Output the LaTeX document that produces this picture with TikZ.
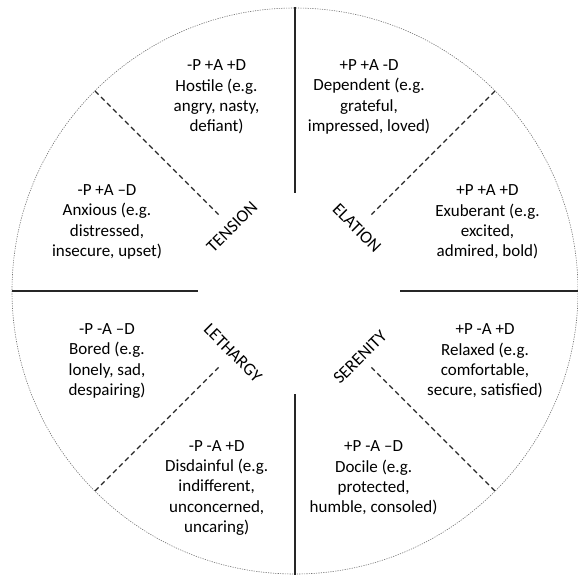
\documentclass[tikz,border=0pt]{standalone}
\usepackage{fontspec}
\setmainfont{Carlito}
\begin{document}
\begin{tikzpicture}[x=1pt,y=-1pt,
  txt/.style={align=center,text=black,inner sep=0pt,font=\fontsize{17}{20.4}\selectfont},
  lab/.style={text=black,inner sep=0pt,font=\fontsize{17.5}{20}\selectfont},
  divider/.style={draw=black!85,line width=1.3pt},
  half/.style={draw=black!85,line width=1.2pt,dash pattern=on 5pt off 3.5pt},
  rim/.style={draw=black!55,line width=0.6pt,dash pattern=on 1.2pt off 1.2pt}]
\useasboundingbox (0,0) rectangle (578,577);
\coordinate (c) at (295,291);
\draw[rim] (c) circle[radius=283];
% solid dividers
\draw[divider] (295,7) -- (295,193);
\draw[divider] (295,394) -- (295,575);
\draw[divider] (12,291) -- (198,291);
\draw[divider] (400,291) -- (578,291);
% dashed dividers
\draw[half] (95,91) -- (218.6,214.6);
\draw[half] (495,91) -- (371.4,214.6);
\draw[half] (95,491) -- (218.6,367.4);
\draw[half] (495,491) -- (371.4,367.4);
% labels
\node[lab,rotate=45] (tension) at (232,227) {TENSION};
\node[lab,rotate=-45] (elation) at (357,228) {ELATION};
\node[lab,rotate=-45] (lethargy) at (233,353) {LETHARGY};
\node[lab,rotate=45] (serenity) at (360,357) {SERENITY};
% texts
\node[txt] (hostile) at (216.5,97) {-P +A +D\\Hostile (e.g.\\angry, nasty,\\defiant)};
\node[txt] (dependent) at (369,97) {+P +A -D\\Dependent (e.g.\\grateful,\\impressed, loved)};
\node[txt] (anxious) at (107,222) {-P +A –D\\Anxious (e.g.\\distressed,\\insecure, upset)};
\node[txt] (exuberant) at (487.5,222) {+P +A +D\\Exuberant (e.g.\\excited,\\admired, bold)};
\node[txt] (bored) at (107,361) {-P -A –D\\Bored (e.g.\\lonely, sad,\\despairing)};
\node[txt] (relaxed) at (485,361) {+P -A +D\\Relaxed (e.g.\\comfortable,\\secure, satisfied)};
\node[txt] (disdainful) at (216.7,488) {-P -A +D\\Disdainful (e.g.\\indifferent,\\unconcerned,\\uncaring)};
\node[txt] (docile) at (373.6,478) {+P -A –D\\Docile (e.g.\\protected,\\humble, consoled)};
\end{tikzpicture}
\end{document}
